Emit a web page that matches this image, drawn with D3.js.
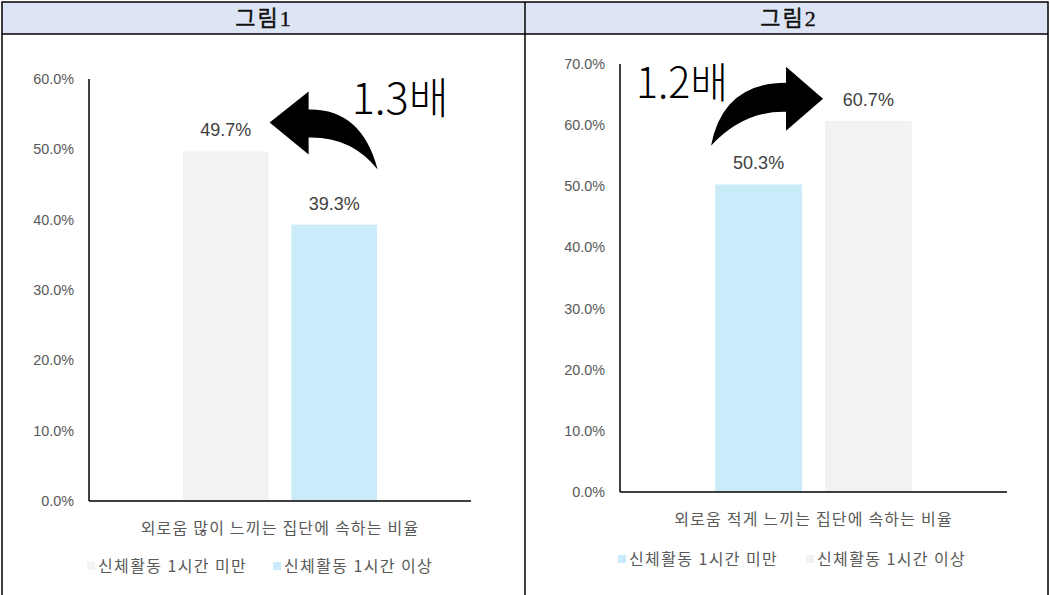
<!DOCTYPE html>
<html>
<head>
<meta charset="utf-8">
<script src="https://cdn.jsdelivr.net/npm/d3@7"></script>
<style>
  body { margin: 0; background: #fff; }
  svg { display: block; }
  .tick-label { font-family: "Liberation Sans", Arial, sans-serif; font-size: 14.4px; fill: #595959; }
  .value-label { font-family: "Liberation Sans", Arial, sans-serif; font-size: 18px; fill: #404040; }
  .kr { font-family: "Noto Sans CJK KR", sans-serif; fill: #595959; }
  .head { font-family: "Liberation Serif", "Noto Sans CJK KR", serif; font-size: 22px; fill: #111; stroke: #111; stroke-width: 0.4px; letter-spacing: 2px; }
  .ratio { font-family: "Noto Sans CJK KR", sans-serif; font-weight: 300; fill: #000; }
</style>
</head>
<body>
<svg width="1050" height="595"></svg>
<script>
const titles = ["그림1", "그림2"]
const categories = ["외로움 많이 느끼는 집단에 속하는 비율", "외로움 적게 느끼는 집단에 속하는 비율"]
const seriesNames = ["신체활동 1시간 미만", "신체활동 1시간 이상"]
const chart1Values = [0.497, 0.393]
const chart2Values = [0.503, 0.607]
const chart1Ticks = [0, 0.1, 0.2, 0.3, 0.4, 0.5, 0.6]
const chart2Ticks = [0, 0.1, 0.2, 0.3, 0.4, 0.5, 0.6, 0.7]
const ratioLabels = ["1.3배", "1.2배"]

const GREY = "#f2f2f2"
const BLUE = "#caebfa"

const svg = d3.select("svg")

// table frame
svg.append("rect").attr("x", 2).attr("y", 2).attr("width", 1046).attr("height", 32).attr("fill", "#dde5f5")
svg.append("rect").attr("x", 2).attr("y", 2).attr("width", 1046).attr("height", 600)
  .attr("fill", "none").attr("stroke", "#000").attr("stroke-width", 1.5)
svg.append("line").attr("x1", 2).attr("x2", 1048).attr("y1", 34).attr("y2", 34).attr("stroke", "#000").attr("stroke-width", 1.5)
svg.append("line").attr("x1", 525).attr("x2", 525).attr("y1", 2).attr("y2", 595).attr("stroke", "#000").attr("stroke-width", 1.5)

svg.selectAll(".head").data(titles).enter().append("text")
  .attr("class", "head")
  .attr("x", (d, i) => i === 0 ? 264 : 789)
  .attr("y", 26)
  .attr("text-anchor", "middle")
  .text(d => d)

const fmt = d3.format(".1%")

function drawChart(cfg) {
  const g = svg.append("g")
  const y = d3.scaleLinear().domain(cfg.domain).range([cfg.bottom, cfg.top])

  const x0 = d3.scaleBand().domain([cfg.category]).range([cfg.left, cfg.right]).paddingOuter(0.485)
  const x1 = d3.scaleBand().domain(seriesNames).range([0, x0.bandwidth()]).paddingInner(0.21)

  // y tick labels (no tick lines)
  g.selectAll(".tick-label").data(cfg.ticks).enter().append("text")
    .attr("class", "tick-label")
    .attr("x", cfg.left - 15)
    .attr("y", d => y(d))
    .attr("dy", "0.35em")
    .attr("text-anchor", "end")
    .text(d => fmt(d))

  // bars
  const rows = seriesNames.map((s, i) => ({ series: s, value: cfg.values[i], color: cfg.colors[i] }))
  g.selectAll(".bar").data(rows).enter().append("rect")
    .attr("class", "bar")
    .attr("x", d => x0(cfg.category) + x1(d.series))
    .attr("y", d => y(d.value))
    .attr("width", x1.bandwidth())
    .attr("height", d => y(0) - y(d.value))
    .attr("fill", d => d.color)

  g.selectAll(".value-label").data(rows).enter().append("text")
    .attr("class", "value-label")
    .attr("x", d => x0(cfg.category) + x1(d.series) + x1.bandwidth() / 2)
    .attr("y", d => y(d.value) - 15)
    .attr("text-anchor", "middle")
    .text(d => fmt(d.value))

  // axis lines
  g.append("line").attr("x1", cfg.left).attr("x2", cfg.left).attr("y1", y(cfg.domain[1])).attr("y2", y(0))
    .attr("stroke", "#000").attr("stroke-width", 1.5)
  g.append("line").attr("x1", cfg.left).attr("x2", cfg.right).attr("y1", y(0)).attr("y2", y(0))
    .attr("stroke", "#000").attr("stroke-width", 1.5)

  // category label
  g.append("text").attr("class", "kr")
    .attr("x", x0(cfg.category) + x0.bandwidth() / 2)
    .attr("y", y(0) + 27)
    .attr("dy", "0.35em")
    .attr("text-anchor", "middle")
    .style("font-size", "16px")
    .style("letter-spacing", "1.2px")
    .text(cfg.category)

  // legend
  const leg = g.selectAll(".leg").data(rows).enter().append("g")
    .attr("transform", (d, i) => `translate(${cfg.legendX[i]}, ${cfg.legendY})`)
  leg.append("rect").attr("x", 0).attr("y", -4).attr("width", 8).attr("height", 8).attr("fill", d => d.color)
  leg.append("text").attr("class", "kr")
    .attr("x", 11).attr("dy", "0.35em")
    .style("font-size", "16px")
    .style("letter-spacing", "1.4px")
    .text(d => d.series)

  return { g, x0, x1, y }
}

// curved block arrow; tip at (0,0), drawn pointing left, mirrored with sx = -1
function arrow(g, tx, ty, sx, s) {
  const p = d3.path()
  p.moveTo(0, 0)
  p.lineTo(s.hx, s.headTop)
  p.lineTo(s.hx, s.shaftTop)
  p.quadraticCurveTo(s.c1x, s.c1y, s.tailX, s.tailY)
  p.quadraticCurveTo(s.c2x, s.c2y, s.hx, s.shaftBot)
  p.lineTo(s.hx, s.headBot)
  p.closePath()
  g.append("path")
    .attr("d", p.toString())
    .attr("transform", `translate(${tx}, ${ty}) scale(${sx}, 1)`)
    .attr("fill", "#000")
}

const c1 = drawChart({
  category: categories[0], values: chart1Values, ticks: chart1Ticks,
  colors: [GREY, BLUE], domain: [0, 0.6],
  left: 89, right: 471, top: 79, bottom: 501,
  legendX: [87, 273], legendY: 566
})
const c2 = drawChart({
  category: categories[1], values: chart2Values, ticks: chart2Ticks,
  colors: [BLUE, GREY], domain: [0, 0.7],
  left: 620, right: 1007, top: 64, bottom: 492,
  legendX: [618, 806], legendY: 559
})

// annotation 1: from second bar back to first bar
{
  const tipX = c1.x0(categories[0]) + c1.x1(seriesNames[0]) + c1.x1.bandwidth() + 1
  const tipY = c1.y(chart1Values[0]) - 29
  arrow(c1.g, tipX, tipY, 1, {
    hx: 39, headTop: -31, headBot: 32, shaftTop: -13, shaftBot: 15,
    c1x: 92, c1y: -14, tailX: 108, tailY: 47, c2x: 82, c2y: 14
  })
  c1.g.append("text").attr("class", "ratio")
    .attr("x", tipX + 82).attr("y", tipY - 8)
    .attr("textLength", 97).attr("lengthAdjust", "spacingAndGlyphs")
    .style("font-size", "43px")
    .text(ratioLabels[0])
}

// annotation 2: from first bar to second bar
{
  const tipX = c2.x0(categories[1]) + c2.x1(seriesNames[1]) - 2
  const tipY = c2.y(chart2Values[1]) - 22
  arrow(c2.g, tipX, tipY, -1, {
    hx: 37, headTop: -32, headBot: 32, shaftTop: -16, shaftBot: 13,
    c1x: 100, c1y: -16, tailX: 112, tailY: 47, c2x: 80, c2y: 12
  })
  c2.g.append("text").attr("class", "ratio")
    .attr("x", 636).attr("y", c2.y(0.7) + 34)
    .attr("textLength", 92).attr("lengthAdjust", "spacingAndGlyphs")
    .style("font-size", "42px")
    .text(ratioLabels[1])
}
</script>
</body>
</html>
